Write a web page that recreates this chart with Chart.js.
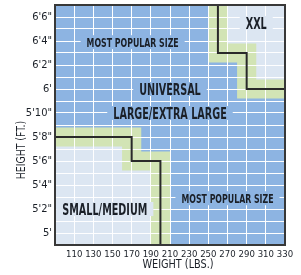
<!DOCTYPE html>
<html>
<head>
<meta charset="utf-8">
<script src="https://cdn.jsdelivr.net/npm/chart.js@4.4.1/dist/chart.umd.min.js"></script>
<style>
  html, body { margin: 0; padding: 0; background: #fff; }
  #wrap { width: 301px; height: 275px; }
</style>
</head>
<body>
<div id="wrap"><canvas id="sizeChart" width="301" height="275"></canvas></div>
<script>
// axis ranges (lbs / inches)
const weightMin = 90, weightMax = 330;
const heightMin = 59, heightMax = 79;
const weightTicks = [110, 130, 150, 170, 190, 210, 230, 250, 270, 290, 310, 330];
const heightTicks = [60, 62, 64, 66, 68, 70, 72, 74, 76, 78];
const heightTickLabels = ["5'", "5'2\"", "5'4\"", "5'6\"", "5'8\"", "5'10\"", "6'", "6'2\"", "6'4\"", "6'6\""];

// small/medium boundary (corners of the stepped line) and its transition band
const smallWeights = [90, 170, 200];
const smallHeights = [68, 66, 59];
const smallBandOuterWeights = [90, 180, 210];
const smallBandOuterHeights = [68.8, 66.8, 59];
const smallBandInnerWeights = [90, 160, 190];
const smallBandInnerHeights = [67.2, 65.2, 59];

// XXL boundary and its transition band
const xxlWeights = [260, 290, 330];
const xxlHeights = [79, 75, 72];
const xxlBandOuterWeights = [250, 280, 330];
const xxlBandOuterHeights = [79, 74.2, 71.2];
const xxlBandInnerWeights = [270, 300, 330];
const xxlBandInnerHeights = [79, 75.8, 72.8];

// region labels
const noteTexts = ['MOST POPULAR SIZE', 'XXL', 'UNIVERSAL', 'LARGE/EXTRA LARGE', 'SMALL/MEDIUM', 'MOST POPULAR SIZE'];
const noteWeights = [171, 300, 210, 210, 142, 270];
const noteHeights = [75.9, 77.5, 72, 70, 62, 62.9];

const BLUE = '#8db4e2';
const LIGHT = '#dce6f2';
const GREEN = '#d2e4b5';
const INK = '#1b2028';
const FONT = '"Liberation Sans Narrow", "DejaVu Sans Condensed", "Arial Narrow", sans-serif';

const noteStyles = [
    { size: 13, bg: BLUE },
    { size: 16, bg: LIGHT },
    { size: 16, bg: BLUE },
    { size: 16, bg: BLUE },
    { size: 16, bg: LIGHT },
    { size: 13, bg: BLUE },
];

function points(ws, hs) {
    return ws.map((w, i) => ({ x: w, y: hs[i] }));
}

function area(ws, hs, color, fill, stepped, order) {
    return {
        data: points(ws, hs),
        showLine: true,
        stepped: stepped,
        fill: fill,
        backgroundColor: color,
        borderWidth: 0,
        pointRadius: 0,
        order: order,
    };
}

// condensed text, the original uses a narrow face
function squeezedText(ctx, text, x, y, squeeze) {
    ctx.save();
    ctx.translate(x, y);
    ctx.scale(squeeze, 1);
    ctx.fillText(text, 0, 0);
    ctx.restore();
}

// fills first, then grid is redrawn over them, then the black boundaries
const plotBackground = {
    id: 'plotBackground',
    beforeDraw(chart) {
        const { ctx, chartArea: a } = chart;
        ctx.save();
        ctx.fillStyle = BLUE;
        ctx.fillRect(a.left, a.top, a.right - a.left, a.bottom - a.top);
        ctx.restore();
    },
    afterDatasetDraw(chart, args) {
        if (!chart.data.datasets[args.index].regrid) return;
        chart.scales.x.drawGrid(chart.chartArea);
        chart.scales.y.drawGrid(chart.chartArea);
    },
    afterDatasetsDraw(chart) {
        const { ctx, scales } = chart;
        const squeeze = 0.67;
        noteTexts.forEach((text, i) => {
            const st = noteStyles[i];
            const px = scales.x.getPixelForValue(noteWeights[i]);
            const py = scales.y.getPixelForValue(noteHeights[i]);
            ctx.save();
            ctx.font = 'bold ' + st.size + 'px ' + FONT;
            const w = ctx.measureText(text).width * squeeze;
            ctx.fillStyle = st.bg;
            ctx.fillRect(px - w / 2 - 6, py - 7, w + 12, 14);
            ctx.textAlign = 'center';
            ctx.textBaseline = 'alphabetic';
            ctx.fillStyle = INK;
            squeezedText(ctx, text, px, py + st.size * 0.36, squeeze);
            ctx.restore();
        });
    },
    afterDraw(chart) {
        const { ctx, chartArea: a } = chart;
        ctx.save();
        ctx.strokeStyle = '#383838';
        ctx.lineWidth = 2;
        ctx.strokeRect(a.left, a.top, a.right - a.left, a.bottom - a.top);

        ctx.fillStyle = INK;
        ctx.textAlign = 'center';
        ctx.textBaseline = 'middle';
        ctx.font = '12px ' + FONT;
        squeezedText(ctx, 'WEIGHT (LBS.)', 178, a.bottom + 20, 0.9);
        ctx.translate(22, 150);
        ctx.rotate(-Math.PI / 2);
        ctx.font = '11.5px ' + FONT;
        squeezedText(ctx, 'HEIGHT (FT.)', 0, 0, 0.9);
        ctx.restore();
    }
};

const datasets = [
    area(smallBandOuterWeights, smallBandOuterHeights, GREEN, 'start', true, 8),
    area(smallBandInnerWeights, smallBandInnerHeights, LIGHT, 'start', true, 7),
    area(xxlBandOuterWeights, xxlBandOuterHeights, GREEN, 'end', 'after', 6),
    Object.assign(area(xxlBandInnerWeights, xxlBandInnerHeights, LIGHT, 'end', 'after', 5), { regrid: true }),
    {
        data: points(smallWeights, smallHeights),
        showLine: true, stepped: true, fill: false,
        borderColor: '#2a2a2a', borderWidth: 2, pointRadius: 0, order: 1,
    },
    {
        data: points(xxlWeights, xxlHeights),
        showLine: true, stepped: 'after', fill: false,
        borderColor: '#2a2a2a', borderWidth: 2, pointRadius: 0, order: 0,
    },
];

new Chart(document.getElementById('sizeChart'), {
    type: 'scatter',
    data: { datasets: datasets },
    options: {
        responsive: false,
        animation: false,
        devicePixelRatio: 1,
        layout: { padding: { top: 5, right: 16, left: 0, bottom: 0 } },
        plugins: { legend: { display: false }, tooltip: { enabled: false } },
        scales: {
            x: {
                type: 'linear',
                min: weightMin,
                max: weightMax,
                afterFit: s => { s.height = 30; s.paddingLeft = 0; s.paddingRight = 0; },
                border: { display: false },
                grid: { color: 'rgba(255,255,255,0.95)', lineWidth: 1, drawTicks: false },
                ticks: {
                    stepSize: 20,
                    autoSkip: false,
                    maxRotation: 0,
                    padding: 4,
                    color: INK,
                    font: { family: FONT, size: 9.5 },
                    callback: v => weightTicks.includes(v) ? String(v) : '',
                },
            },
            y: {
                min: heightMin,
                max: heightMax,
                afterFit: s => { s.width = 55; s.paddingTop = 0; s.paddingBottom = 0; },
                border: { display: false },
                grid: { color: 'rgba(255,255,255,0.95)', lineWidth: 1, drawTicks: false },
                ticks: {
                    stepSize: 1,
                    autoSkip: false,
                    padding: 3,
                    color: INK,
                    font: { family: FONT, size: 11 },
                    callback: v => {
                        const i = heightTicks.indexOf(v);
                        return i >= 0 ? heightTickLabels[i] : '';
                    },
                },
            },
        },
    },
    plugins: [plotBackground],
});
</script>
</body>
</html>
